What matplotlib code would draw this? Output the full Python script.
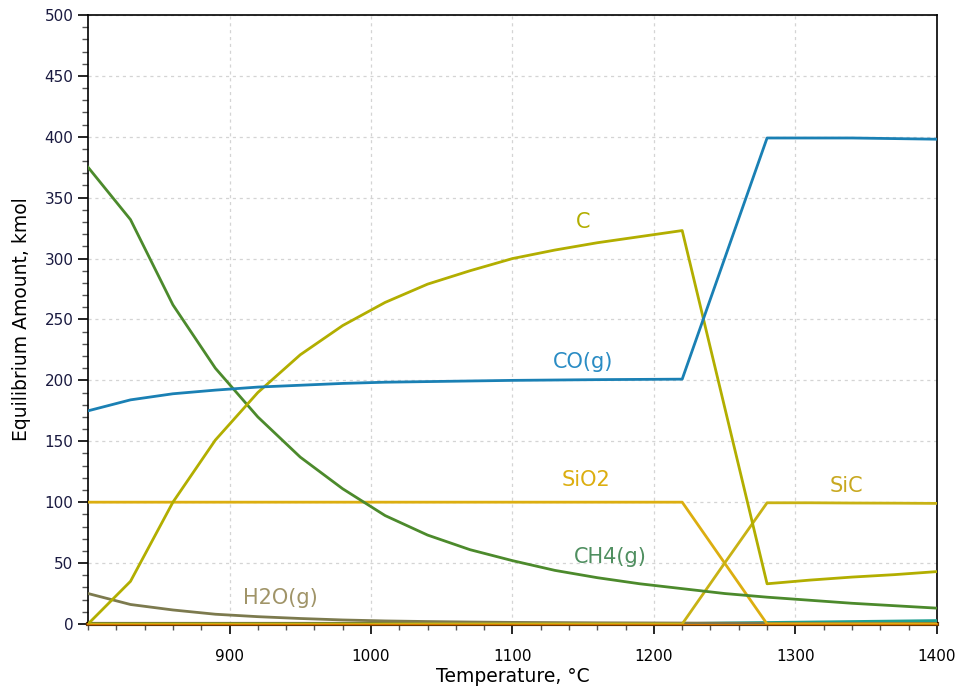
import matplotlib
matplotlib.use("Agg")
import matplotlib.pyplot as plt
from matplotlib.ticker import MultipleLocator, FixedLocator

plt.rcParams['font.family'] = ['DejaVu Sans']

temperature = [800, 830, 860, 890, 920, 950, 980, 1010, 1040, 1070, 1100,
               1130, 1160, 1190, 1220, 1250, 1280, 1310, 1340, 1370, 1400]

co_g = [175, 184, 189, 192, 194.5, 196, 197.5, 198.5, 199, 199.5, 200,
        200.3, 200.6, 200.8, 201, 300, 399, 399, 399, 398.5, 398]
c_solid = [0, 35, 100, 151, 190, 221, 245, 264, 279, 290, 300,
           307, 313, 318, 323, 178, 33, 36, 38.5, 40.5, 43]
sio2 = [100, 100, 100, 100, 100, 100, 100, 100, 100, 100, 100,
        100, 100, 100, 100, 50, 0, 0, 0, 0, 0]
sic = [0, 0, 0, 0, 0, 0, 0, 0, 0, 0, 0,
       0, 0, 0, 0, 50, 99.5, 99.5, 99.3, 99.2, 99]
ch4_g = [375, 332, 262, 210, 170, 137, 111, 89, 73, 61, 52,
         44, 38, 33, 29, 25, 22, 19.5, 17, 15, 13]
h2o_g = [25, 16, 11.5, 8, 6, 4.5, 3.3, 2.5, 2, 1.6, 1.3,
         1.1, 0.9, 0.8, 0.7, 0.6, 0.5, 0.5, 0.4, 0.4, 0.3]
teal_g = [0, 0, 0, 0, 0, 0, 0, 0, 0, 0, 0,
          0, 0, 0, 0.3, 0.8, 1.2, 1.6, 2.0, 2.4, 2.8]
zero_line = [0] * len(temperature)

fig = plt.figure(figsize=(9.58, 6.93), dpi=100)
ax = fig.add_axes([0.0919, 0.0996, 0.886, 0.8788])

ax.plot(temperature, zero_line, color='#6b3a00', lw=3.0, zorder=2, clip_on=False)
ax.plot(temperature, zero_line, color='#e07b00', lw=1.4, zorder=3, clip_on=False)
ax.plot(temperature, teal_g, color='#20a090', lw=2.0, zorder=3)
ax.plot(temperature, h2o_g, color='#7c7a4e', lw=2.0, zorder=4)
ax.plot(temperature, sio2, color='#dcae10', lw=2.0, zorder=4)
ax.plot(temperature, sic, color='#c8b214', lw=2.0, zorder=4)
ax.plot(temperature, ch4_g, color='#4c8a2c', lw=2.0, zorder=5)
ax.plot(temperature, c_solid, color='#b2ae00', lw=2.0, zorder=5)
ax.plot(temperature, co_g, color='#1a80b4', lw=2.0, zorder=6)

lab_kw = dict(fontsize=15, ha='center', va='center')
ax.text(1150, 330, 'C', color='#b2ae00', **lab_kw)
ax.text(1150, 215, 'CO(g)', color='#2a8cc4', **lab_kw)
ax.text(1152, 118, 'SiO2', color='#dcae10', **lab_kw)
ax.text(1169, 55, 'CH4(g)', color='#4f8f60', **lab_kw)
ax.text(936, 21, 'H2O(g)', color='#a09468', **lab_kw)
ax.text(1336, 113, 'SiC', color='#c8a820', **lab_kw)

ax.set_xlim(800, 1400)
ax.set_ylim(0, 500)
ax.xaxis.set_major_locator(FixedLocator([900, 1000, 1100, 1200, 1300, 1400]))
ax.xaxis.set_minor_locator(MultipleLocator(20))
ax.yaxis.set_major_locator(MultipleLocator(50))
ax.yaxis.set_minor_locator(MultipleLocator(10))
ax.tick_params(axis='both', which='major', direction='out', length=7, width=1.2,
               labelsize=11, colors='black')
ax.tick_params(axis='both', which='minor', direction='out', length=4, width=1,
               color='#555555')
ax.tick_params(axis='x', which='major', pad=11)
ax.tick_params(axis='y', which='major', labelcolor='#1a1a40')

ax.grid(True, which='major', color='#d4d4d4', linestyle=(0, (2.5, 3)), lw=0.9)
ax.set_axisbelow(True)
for sp in ax.spines.values():
    sp.set_color('black')
    sp.set_linewidth(1.2)

ax.set_xlabel('Temperature, °C', fontsize=13.5, labelpad=2)
ax.set_ylabel('Equilibrium Amount, kmol', fontsize=13.5, labelpad=10)

fig.savefig('out.png', dpi=100)
